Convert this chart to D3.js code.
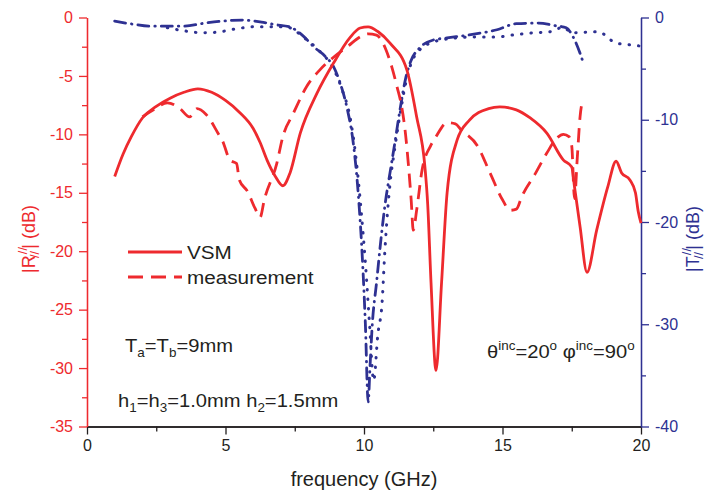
<!DOCTYPE html>
<html>
<head>
<meta charset="utf-8">
<script src="https://cdn.jsdelivr.net/npm/d3@7"></script>
<style>
  body { margin: 0; background: #fff; }
  text { font-family: "Liberation Sans", Arial, sans-serif; }
</style>
</head>
<body>
<svg id="chart" width="710" height="495"></svg>
<script>
// frequency (GHz), |R| in dB -- simulated (VSM)
var vsm = [[1.0,-13.6],[1.3,-11.7],[1.6,-10.2],[2.0,-8.6],[2.5,-7.6],[3.0,-6.9],[3.5,-6.4],[4.0,-6.1],
  [4.5,-6.4],[5.0,-7.1],[5.5,-8.1],[6.0,-9.5],[6.25,-10.7],[6.5,-12.2],[6.8,-13.6],[7.07,-14.4],
  [7.33,-13.3],[7.7,-9.9],[8.3,-6.5],[8.9,-3.9],[9.5,-1.7],[9.86,-0.9],[10.15,-0.8],[10.5,-1.2],
  [10.94,-2.2],[11.55,-4.5],[11.9,-8.5],[12.2,-12.8],[12.3,-16.0],[12.42,-22.7],[12.6,-30.2],
  [12.8,-22.7],[13.0,-15.0],[13.36,-10.5],[13.8,-8.8],[14.5,-7.8],[14.9,-7.65],[15.5,-7.9],
  [16.0,-8.6],[16.6,-9.9],[17.2,-12.2],[17.5,-12.8],[17.6,-14.5],[17.8,-17.9],[18.05,-21.8],
  [18.4,-18.2],[18.8,-14.5],[19.1,-12.3],[19.3,-13.3],[19.6,-13.9],[19.8,-15.0],[19.9,-16.6],[20.0,-17.6]]

// |R| measurement
var meas = [[2.0,-8.5],[2.4,-7.9],[2.9,-7.3],[3.36,-7.8],[3.7,-8.5],[3.97,-7.8],[4.3,-8.3],[4.73,-9.9],
  [4.9,-10.6],[5.16,-12.2],[5.4,-12.5],[5.5,-13.9],[5.8,-14.9],[6.06,-16.3],[6.25,-17.1],[6.4,-15.6],
  [6.85,-12.5],[7.07,-10.2],[7.45,-8.2],[7.93,-5.9],[8.4,-4.5],[8.9,-3.4],[9.4,-2.5],[9.9,-1.6],
  [10.15,-1.4],[10.45,-1.5],[10.8,-2.8],[11.0,-4.2],[11.2,-6.0],[11.35,-7.5],[11.5,-10.0],[11.6,-12.5],
  [11.7,-15.5],[11.78,-18.2],[11.9,-16.5],[12.1,-13.0],[12.4,-11.0],[12.6,-10.2],[13.0,-9.0],
  [13.3,-9.1],[13.5,-9.6],[14.1,-11.0],[14.55,-13.3],[15.0,-15.6],[15.27,-16.5],[15.5,-16.4],
  [15.7,-15.3],[16.2,-13.3],[16.6,-11.6],[16.97,-10.3],[17.2,-10.0],[17.4,-10.2],[17.5,-11.0],
  [17.6,-15.5],[17.7,-12.0],[17.8,-8.5],[17.9,-7.0]]

// |T| dash-dot curve
var tDash = [[1.0,-0.35],[1.65,-0.65],[2.25,-0.85],[3.5,-0.85],[4.25,-0.55],[4.9,-0.35],[5.6,-0.25],
  [6.3,-0.45],[6.8,-0.7],[7.3,-0.9],[7.8,-1.8],[8.2,-2.9],[8.6,-3.8],[8.9,-4.8],[9.15,-6.5],
  [9.4,-9.0],[9.6,-12.0],[9.8,-17.5],[9.95,-24.0],[10.05,-30.0],[10.15,-37.6],[10.22,-34.0],
  [10.3,-30.0],[10.45,-26.0],[10.6,-22.0],[10.75,-18.5],[10.95,-15.0],[11.1,-12.5],[11.3,-9.0],
  [11.5,-6.0],[11.7,-4.2],[12.0,-3.0],[12.5,-2.2],[13.0,-2.0],[13.8,-1.7],[14.8,-1.2],[15.5,-0.6],
  [16.3,-0.55],[16.9,-0.8],[17.3,-1.0],[17.55,-1.9],[17.8,-3.5],[17.9,-4.3]]

// |T| dotted curve
var tDot = [[2.9,-1.0],[3.5,-1.3],[4.2,-1.5],[4.8,-1.4],[5.4,-1.1],[6.1,-0.9],[6.8,-0.9],[7.3,-1.0],
  [7.8,-1.9],[8.4,-3.3],[8.9,-5.0],[9.2,-7.0],[9.5,-9.8],[9.7,-13.5],[9.9,-19.0],[10.05,-24.0],
  [10.2,-30.0],[10.35,-35.5],[10.5,-31.0],[10.65,-28.0],[10.75,-23.0],[10.85,-19.0],[10.95,-16.0],
  [11.1,-13.0],[11.3,-9.5],[11.5,-6.5],[11.7,-4.5],[12.0,-3.2],[12.5,-2.4],[13.0,-2.1],[14.1,-1.9],
  [14.8,-1.9],[15.4,-1.7],[16.1,-1.5],[16.7,-1.4],[17.2,-0.95],[17.5,-1.5],[18.45,-1.4],
  [19.1,-2.5],[19.7,-2.7],[20.0,-2.8]]

var xTicks = [0, 5, 10, 15, 20]
var xMinor = [2.5, 7.5, 12.5, 17.5]
var rTicks = [0, -5, -10, -15, -20, -25, -30, -35]
var rMinor = [-2.5, -7.5, -12.5, -17.5, -22.5, -27.5, -32.5]
var tTicks = [0, -10, -20, -30, -40]
var tMinor = [-5, -15, -25, -35]

var red = "#ee2a2e", blue = "#2e3192", ink = "#231f20"

var svg = d3.select("#chart")

var x = d3.scaleLinear().domain([0, 20]).range([87, 641])
var yL = d3.scaleLinear().domain([-35, 0]).range([426.5, 17.5])
var yR = d3.scaleLinear().domain([-40, 0]).range([426.5, 17.5])

function styleAxis(g, col) {
  g.select(".domain").attr("stroke", col).attr("stroke-width", 1.3)
  g.selectAll(".tick line").attr("stroke", col).attr("stroke-width", 1.3)
  g.selectAll(".tick text").attr("fill", col).style("font-size", "16px")
    .style("font-family", '"Liberation Sans", Arial, sans-serif')
}

// bottom axis
var gx = svg.append("g").attr("transform", "translate(0,426.5)")
  .call(d3.axisBottom(x).tickValues(xTicks).tickSize(8).tickSizeOuter(0).tickPadding(5).tickFormat(function(d){ return d }))
styleAxis(gx, ink)
var gxm = svg.append("g").attr("transform", "translate(0,426.5)")
  .call(d3.axisBottom(x).tickValues(xMinor).tickSize(5).tickSizeOuter(0).tickFormat(""))
styleAxis(gxm, ink)

// left axis (R)
var gl = svg.append("g").attr("transform", "translate(87,0)")
  .call(d3.axisLeft(yL).tickValues(rTicks).tickSize(8).tickSizeOuter(0).tickPadding(6).tickFormat(function(d){ return d }))
styleAxis(gl, red)
var glm = svg.append("g").attr("transform", "translate(87,0)")
  .call(d3.axisLeft(yL).tickValues(rMinor).tickSize(5).tickSizeOuter(0).tickFormat(""))
styleAxis(glm, red)

// right axis (T)
var gr = svg.append("g").attr("transform", "translate(641,0)")
  .call(d3.axisRight(yR).tickValues(tTicks).tickSize(8).tickSizeOuter(0).tickPadding(6).tickFormat(function(d){ return d }))
styleAxis(gr, blue)
var grm = svg.append("g").attr("transform", "translate(641,0)")
  .call(d3.axisRight(yR).tickValues(tMinor).tickSize(5).tickSizeOuter(0).tickFormat(""))
styleAxis(grm, blue)

// curves
var lineL = d3.line().x(function(d){ return x(d[0]) }).y(function(d){ return yL(d[1]) }).curve(d3.curveMonotoneX)
var lineR = d3.line().x(function(d){ return x(d[0]) }).y(function(d){ return yR(d[1]) }).curve(d3.curveMonotoneX)

svg.append("path").datum(tDot).attr("d", lineR)
  .attr("fill", "none").attr("stroke", blue).attr("stroke-width", 3)
  .attr("stroke-linecap", "round").attr("stroke-dasharray", "0.5,9")
svg.append("path").datum(tDash).attr("d", lineR)
  .attr("fill", "none").attr("stroke", blue).attr("stroke-width", 2.8)
  .attr("stroke-linecap", "round").attr("stroke-dasharray", "11,6,0.5,6")
svg.append("path").datum(meas).attr("d", lineL)
  .attr("fill", "none").attr("stroke", red).attr("stroke-width", 2.8)
  .attr("stroke-dasharray", "14,8")
svg.append("path").datum(vsm).attr("d", lineL)
  .attr("fill", "none").attr("stroke", red).attr("stroke-width", 2.8)

// text in the original is a little wider than Liberation Sans, stretch it slightly
function label(x0, y0, size) {
  return svg.append("text").attr("transform", "translate(" + x0 + "," + y0 + ") scale(1.12,1)")
    .attr("fill", ink).style("font-size", size + "px")
}

// legend
svg.append("line").attr("x1", 128).attr("x2", 182).attr("y1", 252).attr("y2", 252)
  .attr("stroke", red).attr("stroke-width", 3)
svg.append("line").attr("x1", 128).attr("x2", 182).attr("y1", 277).attr("y2", 277)
  .attr("stroke", red).attr("stroke-width", 3).attr("stroke-dasharray", "15,8")
label(187, 259, 18.5).text("VSM")
label(187, 284, 18.5).text("measurement")

// annotations
var t1 = label(125, 352, 18)
t1.append("tspan").text("T")
t1.append("tspan").attr("dy", 5).style("font-size", "12px").text("a")
t1.append("tspan").attr("dy", -5).text("=T")
t1.append("tspan").attr("dy", 5).style("font-size", "12px").text("b")
t1.append("tspan").attr("dy", -5).text("=9mm")

var t2 = label(118, 407, 18)
t2.append("tspan").text("h")
t2.append("tspan").attr("dy", 5).style("font-size", "12px").text("1")
t2.append("tspan").attr("dy", -5).text("=h")
t2.append("tspan").attr("dy", 5).style("font-size", "12px").text("3")
t2.append("tspan").attr("dy", -5).text("=1.0mm h")
t2.append("tspan").attr("dy", 5).style("font-size", "12px").text("2")
t2.append("tspan").attr("dy", -5).text("=1.5mm")

var t3 = label(487, 358, 18)
t3.append("tspan").text("θ")
t3.append("tspan").attr("dy", -8).style("font-size", "12px").text("inc")
t3.append("tspan").attr("dy", 8).text("=20")
t3.append("tspan").attr("dy", -8).style("font-size", "12px").text("o")
t3.append("tspan").attr("dy", 8).text(" φ")
t3.append("tspan").attr("dy", -8).style("font-size", "12px").text("inc")
t3.append("tspan").attr("dy", 8).text("=90")
t3.append("tspan").attr("dy", -8).style("font-size", "12px").text("o")

// axis titles
svg.append("text").attr("x", 364).attr("y", 486).attr("text-anchor", "middle")
  .attr("fill", ink).style("font-size", "20px").text("frequency (GHz)")

function yTitle(xpos, letter, col) {
  var t = svg.append("text").attr("transform", "translate(" + xpos + ",239) rotate(-90)")
    .attr("text-anchor", "middle").attr("fill", col).style("font-size", "18px")
  t.append("tspan").text("|" + letter)
  t.append("tspan").attr("dx", 1).attr("dy", -8).style("font-size", "13px").text("//")
  t.append("tspan").attr("dx", -11).attr("dy", 12).style("font-size", "13px").text("//")
  t.append("tspan").attr("dx", 2).attr("dy", -4).text("| (dB)")
}
yTitle(35, "R", red)
yTitle(699, "T", blue)
</script>
</body>
</html>
